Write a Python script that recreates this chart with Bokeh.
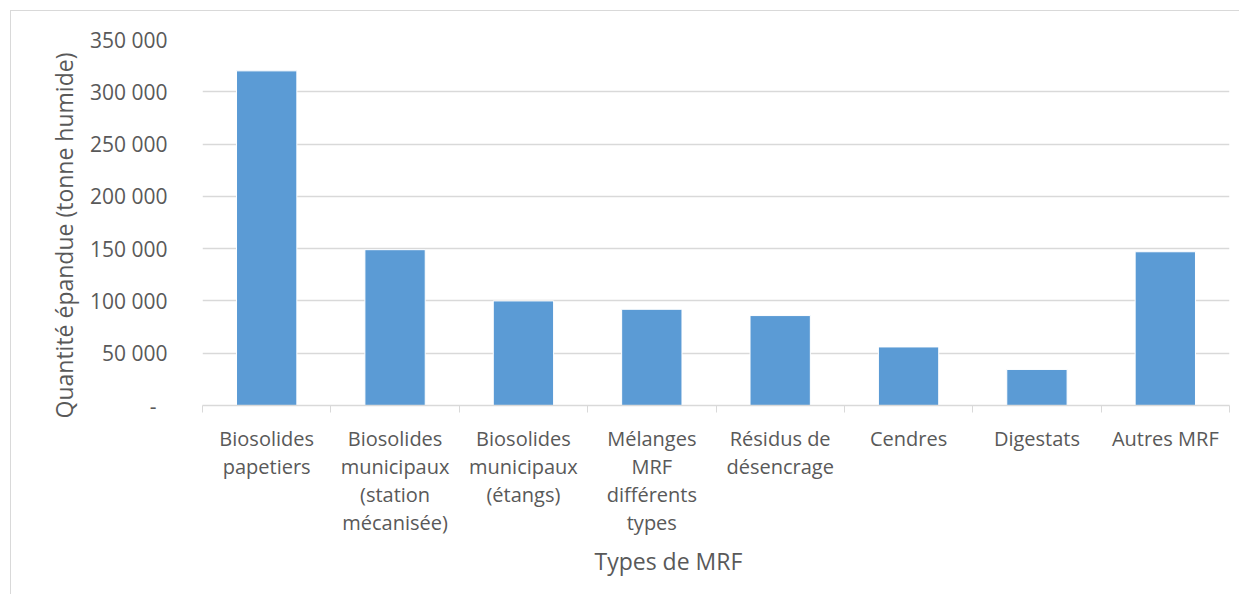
from bokeh.plotting import figure
from bokeh.models import FixedTicker, ColumnDataSource, Title
from bokeh.embed import file_html
from bokeh.resources import INLINE
import numpy as np

categories = ["Biosolides\npapetiers",
              "Biosolides\nmunicipaux\n(station\nmécanisée)",
              "Biosolides\nmunicipaux\n(étangs)",
              "Mélanges\nMRF\ndifférents\ntypes",
              "Résidus de\ndésencrage",
              "Cendres",
              "Digestats",
              "Autres MRF"]
values = [320000, 149000, 100000, 92000, 86000, 56000, 34500, 147000]
y_ticks = [0, 50000, 100000, 150000, 200000, 250000, 300000, 350000]
y_tick_labels = ["-\u00a0\u00a0", "50 000", "100 000", "150 000", "200 000", "250 000", "300 000", "350 000"]

FONT = "Open Sans"
TXT = "#595959"
GRID = "#d9d9d9"

n = len(categories)
xs = np.arange(n) + 0.5
src = ColumnDataSource(dict(x=xs, top=values))

p = figure(width=1229, height=584, output_backend="svg", toolbar_location=None,
           x_range=(0, n), y_range=(0, 350000),
           min_border_left=191, min_border_top=28, min_border_right=11, min_border_bottom=190)
p.margin = (10, 0, 0, 10)
p.styles = {"border-left": "1px solid #d9d9d9", "border-top": "1px solid #d9d9d9"}
p.outline_line_color = None

p.vbar(x="x", top="top", width=0.47, bottom=0, source=src,
       fill_color="#5B9BD5", line_color="white", line_width=1)

# x axis
xa = p.xaxis[0]
xa.ticker = FixedTicker(ticks=list(xs), minor_ticks=list(range(n + 1)))
xa.major_label_overrides = {float(x): c for x, c in zip(xs, categories)}
xa.major_tick_line_color = None
xa.major_tick_out = 0
xa.minor_tick_line_color = GRID
xa.minor_tick_out = 7
xa.minor_tick_in = 0
xa.axis_line_color = GRID
xa.axis_line_width = 1.5
xa.major_label_text_font = FONT
xa.major_label_text_font_size = "20px"
xa.major_label_text_line_height = 1.04
xa.major_label_text_color = TXT
xa.major_label_standoff = 12

# y axis
ya = p.yaxis[0]
ya.ticker = FixedTicker(ticks=y_ticks)
ya.major_label_overrides = {t: l for t, l in zip(y_ticks, y_tick_labels)}
ya.axis_line_color = None
ya.major_tick_line_color = None
ya.major_tick_out = 0
ya.minor_tick_line_color = None
ya.major_label_text_font = FONT
ya.major_label_text_font_size = "21px"
ya.major_label_text_color = TXT
ya.major_label_standoff = 35

p.xgrid.grid_line_color = None
p.ygrid.ticker = FixedTicker(ticks=y_ticks)
p.ygrid.grid_line_color = GRID
p.ygrid.grid_line_width = 1.5

ytitle = Title(text="Quantité épandue (tonne humide)", align="left", offset=-13,
               text_font=FONT, text_font_size="23px", text_color=TXT,
               text_font_style="normal", standoff=16)
p.add_layout(ytitle, "left")

xtitle = Title(text="Types de MRF", align="left", offset=392, text_font=FONT,
               text_font_size="23px", text_color=TXT, text_font_style="normal", standoff=8)
p.add_layout(xtitle, "below")

open("out.html", "w").write(file_html(p, INLINE))
